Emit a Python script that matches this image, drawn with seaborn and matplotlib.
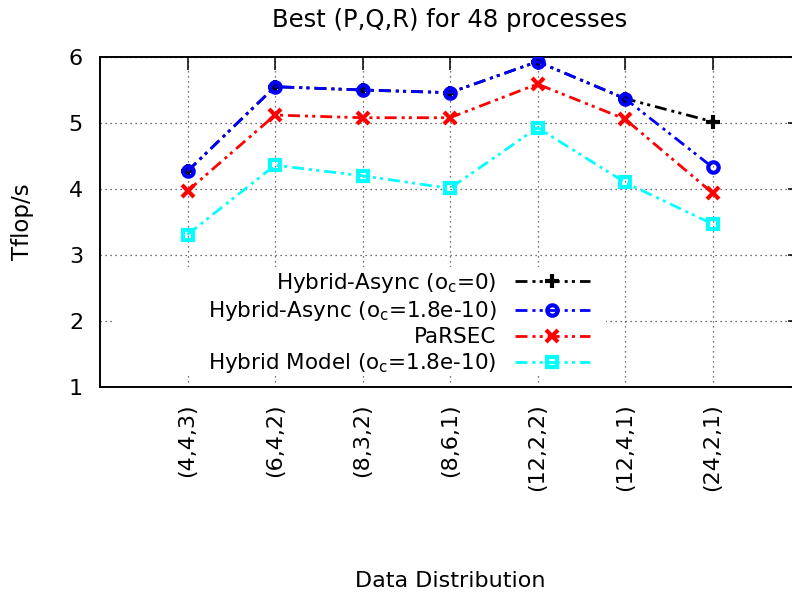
import matplotlib
matplotlib.use("Agg")
import matplotlib.pyplot as plt
import seaborn as sns
from matplotlib.patches import Rectangle

# ---- data ----
distributions = ['(4,4,3)', '(6,4,2)', '(8,3,2)', '(8,6,1)', '(12,2,2)', '(12,4,1)', '(24,2,1)']
hybrid_async_oc0 = [4.27, 5.55, 5.50, 5.46, 5.93, 5.37, 5.02]
hybrid_async_oc18 = [4.27, 5.55, 5.50, 5.46, 5.93, 5.37, 4.33]
parsec = [3.97, 5.12, 5.08, 5.08, 5.59, 5.06, 3.94]
hybrid_model = [3.31, 4.36, 4.20, 4.01, 4.93, 4.10, 3.47]
series_labels = [r'Hybrid-Async (o$_\mathregular{c}$=0)',
                 r'Hybrid-Async (o$_\mathregular{c}$=1.8e-10)',
                 'PaRSEC',
                 r'Hybrid Model (o$_\mathregular{c}$=1.8e-10)']
y_ticks = [1, 2, 3, 4, 5, 6]

sns.set_style("white")
plt.rcParams['font.family'] = ['DejaVu Sans']
plt.rcParams['mathtext.default'] = 'regular'
plt.rcParams['text.color'] = 'black'
plt.rcParams['axes.labelcolor'] = 'black'

W, H = 792, 597
fig = plt.figure(figsize=(W / 100, H / 100), dpi=100)
# plot area: left 100px, top 57px, bottom 387px, right border beyond image (800px)
ax = fig.add_axes([100 / W, (H - 387) / H, 700 / W, 330 / H])

dash = (0, (4.3, 1.8, 1.1, 1.5, 1.1, 1.8))
lw = 2.0
styles = [
    dict(color='black', marker='+', markersize=10, markeredgewidth=3, markeredgecolor='black'),
    dict(color='#0000ff', marker='o', markersize=7.5, markeredgewidth=3, markeredgecolor='#0000ff',
         markerfacecolor='none'),
    dict(color='#ff0000', marker='x', markersize=8, markeredgewidth=3, markeredgecolor='#ff0000'),
    dict(color='#00ffff', marker='s', markersize=7, markeredgewidth=3, markeredgecolor='#00ffff',
         markerfacecolor='none'),
]
for vals, lab, st in zip([hybrid_async_oc0, hybrid_async_oc18, parsec, hybrid_model],
                         series_labels, styles):
    sns.lineplot(x=distributions, y=vals, ax=ax, sort=False, label=lab,
                 linestyle=dash, linewidth=lw, zorder=3, legend=False, **st)

ax.set_xlim(-1, 7)
ax.set_ylim(1, 6)
ax.set_yticks(y_ticks)
ax.set_xticks(range(len(distributions)))
ax.set_xticklabels(distributions, rotation=90, va='top', ha='center')

ax.set_axisbelow(True)
ax.grid(True, color='0.25', linestyle=(0, (1, 3)), linewidth=0.9)
for s in ax.spines.values():
    s.set_color('black')
    s.set_linewidth(1.4)
ax.tick_params(axis='both', direction='in', length=9, width=1.1, top=True, right=True,
               colors='black', labelsize=16)
ax.tick_params(axis='y', pad=12.2)
ax.tick_params(axis='x', pad=11.5)

ax.set_title('Best (P,Q,R) for 48 processes', fontsize=17.5, pad=21.8, color='black')
ax.set_xlabel('Data Distribution', fontsize=16, va='center')
ax.xaxis.set_label_coords(0.5, (387 - 581) / 330)
ax.set_ylabel('Tflop/s', fontsize=16.5, va='center')
ax.yaxis.set_label_coords((23 - 100) / 700, 0.5)

# opaque key background (hides grid under the key)
ax.add_patch(Rectangle(((114 - 100) / 700, (387 - 374) / 330), (606 - 114) / 700, (374 - 267) / 330,
                       transform=ax.transAxes, facecolor='white', edgecolor='none', zorder=1))

leg = ax.legend(loc='upper right', bbox_to_anchor=((590 - 100) / 700, (387 - 271) / 330),
                markerfirst=False, frameon=False, fontsize=15.5, handlelength=3.5,
                handletextpad=0.84, labelspacing=0.19, borderpad=0, borderaxespad=0,
                numpoints=1, labelcolor='black')

fig.savefig('out.png', dpi=100)
